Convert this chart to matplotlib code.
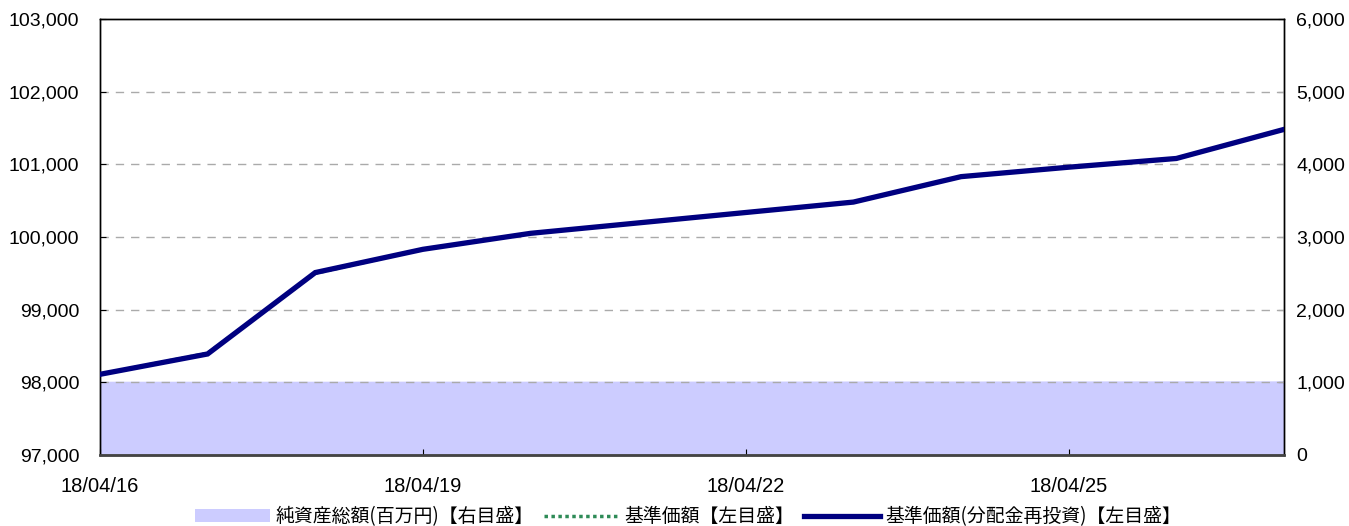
import matplotlib
matplotlib.use('Agg')
import matplotlib.pyplot as plt
import matplotlib.dates as mdates
from matplotlib.ticker import FuncFormatter, MultipleLocator
import pandas as pd

plt.rcParams['font.family'] = ['Liberation Sans', 'Noto Sans CJK JP', 'DejaVu Sans']

# business days
dates = pd.to_datetime(['2018-04-16', '2018-04-17', '2018-04-18', '2018-04-19', '2018-04-20',
                        '2018-04-23', '2018-04-24', '2018-04-25', '2018-04-26', '2018-04-27'])
nav = [98110, 98400, 99500, 99830, 100050, 100480, 100830, 100960, 101080, 101480]
nav_reinvest = [98110, 98390, 99510, 99830, 100050, 100480, 100830, 100960, 101080, 101480]
net_assets = [1015, 1015, 1015, 1016, 1016, 1018, 1018, 1019, 1020, 1020]

tick_dates = pd.to_datetime(['2018-04-16', '2018-04-19', '2018-04-22', '2018-04-25'])

fig = plt.figure(figsize=(13.49, 5.26), dpi=100)
ax = fig.add_axes([0.0741, 0.135, 0.8777, 0.829])
ax2 = ax.twinx()

# net assets area on right axis, drawn behind
ax2.fill_between(dates, net_assets, 0, color='#ccccff', linewidth=0, label='純資産総額(百万円)【右目盛】')
ax2.set_ylim(0, 6000)
ax2.yaxis.set_major_locator(MultipleLocator(1000))
ax2.set_zorder(1)
ax.set_zorder(2)
ax.patch.set_visible(False)

for y in range(98000, 103000, 1000):
    ax.axhline(y, color='#aaaaaa', linestyle=(0, (6, 5)), linewidth=1, zorder=0)

ax.plot(dates, nav, color='#2e8b57', linestyle=(0, (1, 1)), linewidth=2.5, label='基準価額【左目盛】', zorder=3)
ax.plot(dates, nav_reinvest, color='#000080', linewidth=3.8, label='基準価額(分配金再投資)【左目盛】', zorder=4,
        solid_joinstyle='miter')

ax.set_ylim(97000, 103000)
ax.yaxis.set_major_locator(MultipleLocator(1000))
ax.set_xlim(pd.Timestamp('2018-04-16'), pd.Timestamp('2018-04-27'))
ax.set_xticks(tick_dates)
ax.xaxis.set_major_formatter(mdates.DateFormatter('%y/%m/%d'))

fmt = FuncFormatter(lambda v, p: f'{int(v):,}')
ax.yaxis.set_major_formatter(fmt)
ax2.yaxis.set_major_formatter(fmt)

ax.tick_params(axis='both', direction='in', length=4, labelsize=14, colors='black')
ax.tick_params(axis='y', pad=15)
ax.tick_params(axis='x', pad=16, labelsize=14.5)
ax2.tick_params(axis='y', direction='in', length=4, labelsize=14, pad=9)

for a in (ax, ax2):
    for s in a.spines.values():
        s.set_color('black')
        s.set_linewidth(1)
ax.spines['bottom'].set_color('#444444')
ax.spines['bottom'].set_linewidth(2)

h1, l1 = ax2.get_legend_handles_labels()
h2, l2 = ax.get_legend_handles_labels()
fig.legend(h1 + h2, l1 + l2, loc='lower center', bbox_to_anchor=(0.51, -0.035), ncol=3,
           frameon=False, handlelength=4.0, handletextpad=0.3, columnspacing=0.5,
           prop={'family': ['Noto Sans CJK JP'], 'size': 13.6})

fig.savefig('out.png', dpi=100)
